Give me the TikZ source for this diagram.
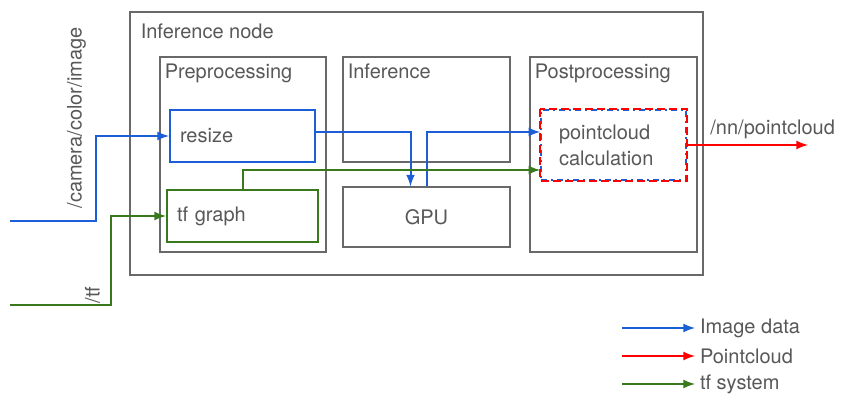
\documentclass[tikz,border=0pt]{standalone}
\usepackage{fontspec}
\setmainfont{TeX Gyre Heros}
\usepackage{tikz}
\usetikzlibrary{arrows.meta}
\usetikzlibrary{calc}

\definecolor{imgblue}{RGB}{28,94,214}
\definecolor{tfgreen}{RGB}{58,120,30}
\definecolor{boxgray}{RGB}{105,105,105}
\definecolor{txtgray}{RGB}{88,88,88}

\begin{document}
\begin{tikzpicture}[x=0.5pt, y=-0.5pt,
    font=\fontsize{10}{13}\selectfont, text=txtgray,
    box/.style={draw=boxgray, line width=0.6pt, inner sep=0pt},
    proc/.style={draw, line width=1pt, inner xsep=5pt, inner ysep=0pt, text width=62.5pt, align=left},
    lbl/.style={anchor=base west, inner sep=0pt},
    img/.style={imgblue, line width=1pt, arrows=-latex},
    tfs/.style={tfgreen, line width=1pt, arrows=-latex},
    pcs/.style={red, line width=1pt, arrows=-latex}]
	\useasboundingbox (0,0) rectangle (846,394);
	% boxes
	\node [box, minimum width=286.5pt, minimum height=131.5pt] (inf) at (416.5,143.5) {};
	\node [lbl] (inft) at ($(inf.north west)+(11,27.5)$) {Inference node};
	\node [box, minimum width=83pt, minimum height=97.5pt] (pre) at (243,154.5) {};
	\node [lbl] (pret) at ($(pre.north west)+(5,22)$) {Preprocessing};
	\node [box, minimum width=83.5pt, minimum height=52.5pt] (nn) at (426.5,109.5) {};
	\node [lbl] (nnt) at ($(nn.north west)+(5,22)$) {Inference};
	\node [box, minimum width=83.5pt, minimum height=30pt] (gpu) at (426.5,217) {GPU};
	\node [box, minimum width=83.5pt, minimum height=97.5pt] (post) at (613.5,154.5) {};
	\node [lbl] (postt) at ($(post.north west)+(5,22)$) {Postprocessing};
	\node [proc, imgblue, text=txtgray, minimum height=26pt] (resize) at (242.5,136) {resize};
	\node [proc, tfgreen, text=txtgray, minimum height=26pt, text width=65.5pt] (tfg) at (242.5,216) {tf graph};
	\node [proc, draw=imgblue, dash dot, line width=0.8pt, text width=54.5pt, inner xsep=9pt, minimum height=35pt] (pcl) at (613.5,145) {pointcloud\\calculation};
	\draw [red, line width=0.8pt, dash pattern=on 4pt off 2pt] (pcl.north west) rectangle (pcl.south east); % red over blue
	% inputs
	\coordinate (camin) at (10,221);
	\coordinate (tfin) at (10,305);
	\draw [img] (camin) -- ++(86,0) |- (resize.west);
	\node [rotate=90, anchor=south] (camt) at (93,118) {/camera/color/image};
	\draw [tfs] (tfin) -- ++(101,0) |- (tfg.west);
	\node [rotate=90, anchor=south] (tft) at (107,295) {/tf};
	% inner flow
	\draw [img] ([yshift=2pt]resize.east) -| ([xshift=-8pt]gpu.north);
	\draw [img] (gpu.north) |- ([yshift=6.5pt]pcl.west);
	\draw [tfs] (tfg.north) |- ([yshift=-12.5pt]pcl.west);
	% output
	\coordinate (pcout) at (808,145);
	\draw [pcs] (pcl.east) -- (pcout);
	\node [anchor=base west, inner sep=0pt] (pcoutt) at (710,135) {/nn/pointcloud};
	% legend
	\foreach \y/\s/\t [count=\i] in {328/img/Image data, 356/pcs/Pointcloud, 384/tfs/tf system} {
		\coordinate (leg\i) at (622,\y);
		\draw [\s] (leg\i) -- ++(73,0) node [right, inner sep=2pt, text=txtgray] (legt\i) {\t};
	}
\end{tikzpicture}
\end{document}
